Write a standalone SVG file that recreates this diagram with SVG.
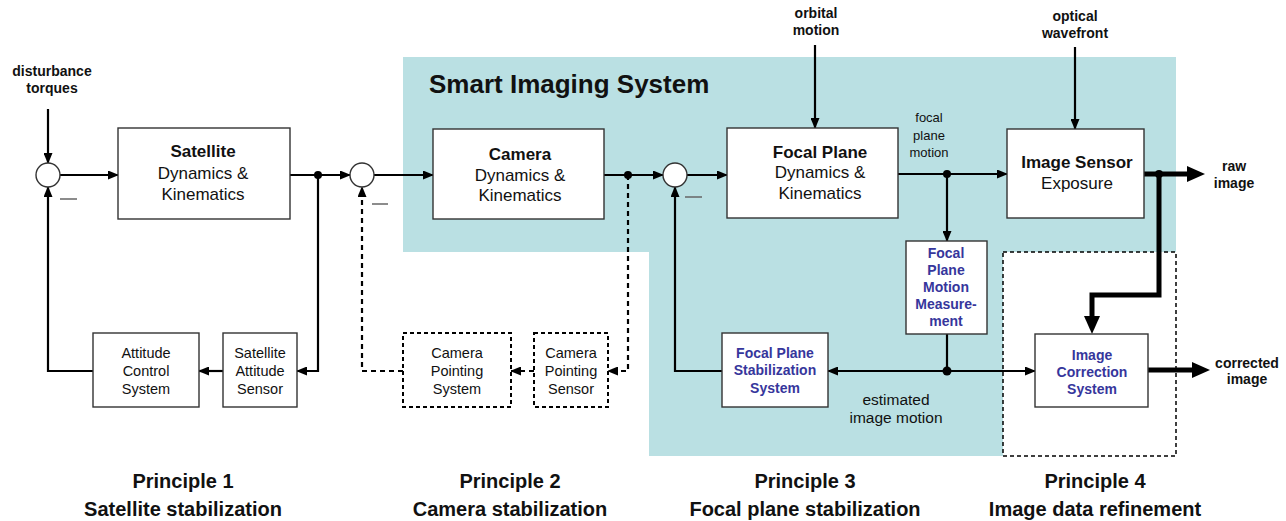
<svg xmlns="http://www.w3.org/2000/svg" width="1286" height="521" viewBox="0 0 1286 521">
<defs>
<marker id="ar" markerUnits="userSpaceOnUse" markerWidth="11" markerHeight="9" refX="10" refY="4.5" orient="auto"><path d="M0,0 L11,4.5 L0,9 z" fill="#000"/></marker>
<marker id="arT" markerUnits="userSpaceOnUse" markerWidth="18" markerHeight="16" refX="2" refY="8" orient="auto"><path d="M0,0 L18,8 L0,16 z" fill="#000"/></marker>
<style>
.box{fill:#fff;stroke:#333;stroke-width:1.4}
.dbox{fill:#fff;stroke:#000;stroke-width:2;stroke-dasharray:4,3}
.sum{fill:#fff;stroke:#333;stroke-width:1.4}
.ln{fill:none;stroke:#000;stroke-width:2.2}
.dl{fill:none;stroke:#000;stroke-width:2.2;stroke-dasharray:5,4}
.tk{fill:none;stroke:#000;stroke-width:5}
.minus{stroke:#666;stroke-width:1.5}
text{font-family:"Liberation Sans",Arial,sans-serif;fill:#111;text-anchor:middle}
.big{font-size:17px}
.b{font-weight:bold}
.sm{font-size:14.5px}
.bl{font-size:14px;font-weight:bold;fill:#36369c}
.lab{font-size:14px;font-weight:bold}
.pr{font-size:20px;font-weight:bold}
</style>
</defs>
<rect width="1286" height="521" fill="#fff"/>
<path d="M403,57 H1176 V252 H1003 V456 H649 V252 H403 Z" fill="#bae0e3"/>
<rect x="1003" y="252" width="173" height="204" fill="none" stroke="#000" stroke-width="1.5" stroke-dasharray="4,3"/>
<text x="429" y="93" style="font-size:26px;font-weight:bold;text-anchor:start">Smart Imaging System</text>

<g id="connectors">
<path class="ln" d="M48,109 V163" marker-end="url(#ar)"/>
<path class="ln" d="M60,175 H118" marker-end="url(#ar)"/>
<path class="ln" d="M290,175 H350" marker-end="url(#ar)"/>
<path class="ln" d="M318,175 V371 H297" marker-end="url(#ar)"/>
<path class="ln" d="M223,371 H199" marker-end="url(#ar)"/>
<path class="ln" d="M93,371 H48 V187" marker-end="url(#ar)"/>
<path class="ln" d="M374,175 H433" marker-end="url(#ar)"/>
<path class="ln" d="M604,175 H663" marker-end="url(#ar)"/>
<path class="dl" d="M628,175 V371 H608" marker-end="url(#ar)"/>
<path class="dl" d="M534,371 H511" marker-end="url(#ar)"/>
<path class="dl" d="M403,371 H362 V187" marker-end="url(#ar)"/>
<path class="ln" d="M687,175 H727" marker-end="url(#ar)"/>
<path class="ln" d="M815,45 V128" marker-end="url(#ar)"/>
<path class="ln" d="M898,174 H1007" marker-end="url(#ar)"/>
<path class="ln" d="M947,174 V241" marker-end="url(#ar)"/>
<path class="ln" d="M947,334 V371"/>
<path class="ln" d="M947,371 H828" marker-end="url(#ar)"/>
<path class="ln" d="M947,371 H1035" marker-end="url(#ar)"/>
<path class="ln" d="M722,371 H675 V187" marker-end="url(#ar)"/>
<path class="ln" d="M1075,47 V129" marker-end="url(#ar)"/>
<path class="tk" d="M1144,174 H1189" marker-end="url(#arT)"/>
<path class="tk" d="M1159,174 V295 H1092 V318" marker-end="url(#arT)"/>
<path class="tk" d="M1148,370 H1194" marker-end="url(#arT)"/>
<circle cx="318" cy="175" r="4"/>
<circle cx="628" cy="175" r="4"/>
<circle cx="947" cy="174" r="4"/>
<circle cx="947" cy="371" r="4.5"/>
<circle cx="1159" cy="174" r="4"/>
<line class="minus" x1="60" y1="199" x2="77" y2="199"/>
<line class="minus" x1="372" y1="204" x2="388" y2="204"/>
<line class="minus" x1="685" y1="197" x2="702" y2="197"/>
</g>

<g id="sum1"><circle class="sum" cx="48" cy="175" r="12"/></g>
<g id="sum2"><circle class="sum" cx="362" cy="175" r="12"/></g>
<g id="sum3"><circle class="sum" cx="675" cy="175" r="12"/></g>

<g id="satellite">
<rect class="box" x="118" y="128" width="172" height="91"/>
<text class="big b" x="203" y="157">Satellite</text>
<text class="big" x="203" y="179">Dynamics &amp;</text>
<text class="big" x="203" y="200">Kinematics</text>
</g>
<g id="camera">
<rect class="box" x="433" y="129" width="171" height="90"/>
<text class="big b" x="520" y="160">Camera</text>
<text class="big" x="520" y="181">Dynamics &amp;</text>
<text class="big" x="520" y="201">Kinematics</text>
</g>
<g id="focalplane">
<rect class="box" x="727" y="128" width="171" height="90"/>
<text class="big b" x="820" y="158">Focal Plane</text>
<text class="big" x="820" y="178">Dynamics &amp;</text>
<text class="big" x="820" y="199">Kinematics</text>
</g>
<g id="imagesensor">
<rect class="box" x="1007" y="129" width="137" height="89"/>
<text class="big b" x="1077" y="168">Image Sensor</text>
<text class="big" x="1077" y="189">Exposure</text>
</g>
<g id="acs">
<rect class="box" x="93" y="333" width="106" height="74"/>
<text class="sm" x="146" y="358">Attitude</text>
<text class="sm" x="146" y="376">Control</text>
<text class="sm" x="146" y="394">System</text>
</g>
<g id="sas">
<rect class="box" x="223" y="333" width="74" height="74"/>
<text class="sm" x="260" y="358">Satellite</text>
<text class="sm" x="260" y="376">Attitude</text>
<text class="sm" x="260" y="394">Sensor</text>
</g>
<g id="cps">
<rect class="dbox" x="403" y="333" width="108" height="74"/>
<text class="sm" x="457" y="358">Camera</text>
<text class="sm" x="457" y="376">Pointing</text>
<text class="sm" x="457" y="394">System</text>
</g>
<g id="cpsensor">
<rect class="dbox" x="534" y="333" width="74" height="74"/>
<text class="sm" x="571" y="358">Camera</text>
<text class="sm" x="571" y="376">Pointing</text>
<text class="sm" x="571" y="394">Sensor</text>
</g>
<g id="fpss">
<rect class="box" x="722" y="333" width="106" height="74"/>
<text class="bl" x="775" y="358">Focal Plane</text>
<text class="bl" x="775" y="375">Stabilization</text>
<text class="bl" x="775" y="393">System</text>
</g>
<g id="fpmm">
<rect class="box" x="906" y="241" width="81" height="93"/>
<text class="bl" x="946" y="258">Focal</text>
<text class="bl" x="946" y="275">Plane</text>
<text class="bl" x="946" y="292">Motion</text>
<text class="bl" x="946" y="309">Measure-</text>
<text class="bl" x="946" y="326">ment</text>
</g>
<g id="ics">
<rect class="box" x="1035" y="334" width="113" height="73"/>
<text class="bl" x="1092" y="360">Image</text>
<text class="bl" x="1092" y="377">Correction</text>
<text class="bl" x="1092" y="394">System</text>
</g>

<g id="labels">
<text class="lab" x="52" y="76">disturbance</text>
<text class="lab" x="52" y="93">torques</text>
<text class="lab" x="816" y="18">orbital</text>
<text class="lab" x="816" y="35">motion</text>
<text class="lab" x="1075" y="21">optical</text>
<text class="lab" x="1075" y="38">wavefront</text>
<text class="lab" x="1234" y="171">raw</text>
<text class="lab" x="1234" y="188">image</text>
<text class="lab" x="1247" y="368">corrected</text>
<text class="lab" x="1247" y="384">image</text>
<text x="929" y="122" style="font-size:13px">focal</text>
<text x="929" y="140" style="font-size:13px">plane</text>
<text x="929" y="157" style="font-size:13px">motion</text>
<text x="896" y="405" style="font-size:15.5px">estimated</text>
<text x="896" y="423" style="font-size:15.5px">image motion</text>
<text class="pr" x="183" y="488">Principle 1</text>
<text class="pr" x="183" y="516">Satellite stabilization</text>
<text class="pr" x="510" y="488">Principle 2</text>
<text class="pr" x="510" y="516">Camera stabilization</text>
<text class="pr" x="805" y="488">Principle 3</text>
<text class="pr" x="805" y="516">Focal plane stabilization</text>
<text class="pr" x="1095" y="488">Principle 4</text>
<text class="pr" x="1095" y="516">Image data refinement</text>
</g>
</svg>
